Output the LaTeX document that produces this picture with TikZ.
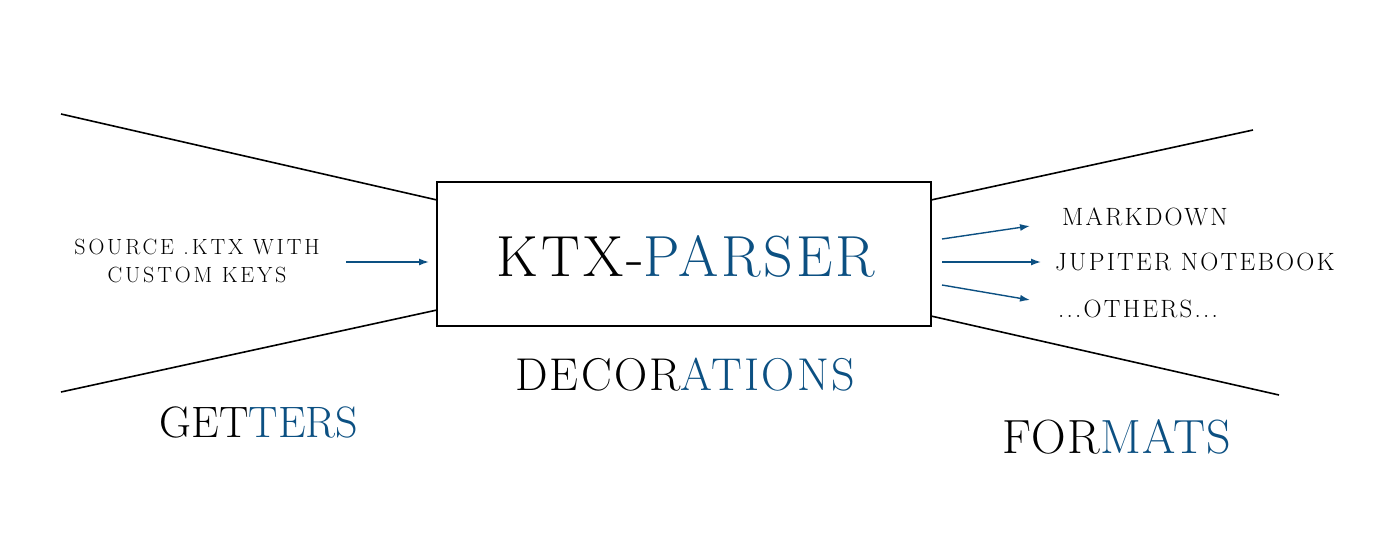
\documentclass[tikz,border=0pt]{standalone}
\usepackage{fontspec}
\setmainfont{Latin Modern Roman}
\usetikzlibrary{arrows.meta}
\definecolor{ktxblue}{RGB}{12,80,130}
\newcommand{\ls}[1]{\addfontfeatures{LetterSpace=#1}}
\begin{document}
\begin{tikzpicture}[x=1pt,y=-1pt,
  wire/.style={line width=1.6pt,black},
  flow/.style={line width=1.4pt,ktxblue,-{Latex[length=10pt,width=7pt]}},
  small/.style={font=\fontsize{22}{28}\selectfont\ls{13},align=center,inner sep=0pt},
  fmt/.style={font=\fontsize{25}{28}\selectfont\ls{9},anchor=west,inner sep=0pt},
  mainbox/.style={draw,line width=2.8pt,minimum width=494,minimum height=144,inner sep=0pt}]
\useasboundingbox (0,0) rectangle (1389,536);
\node[mainbox] (box) at (684,254) {};
\node[font=\fontsize{58}{62}\selectfont\ls{5},inner sep=0pt] (title) at (686,256) {KTX-\textcolor{ktxblue}{PARSER}};
\node[font=\fontsize{46}{50}\selectfont\ls{5},inner sep=0pt] (deco) at (685,375) {DECOR\textcolor{ktxblue}{ATIONS}};
\node[font=\fontsize{44}{48}\selectfont,inner sep=0pt] (get) at (259,422) {GET\textcolor{ktxblue}{TERS}};
\node[font=\fontsize{48}{52}\selectfont\ls{3},inner sep=0pt] (form) at (1117,437) {FOR\textcolor{ktxblue}{MATS}};
\node[small] (src) at (197,261) {SOURCE .KTX WITH\\CUSTOM KEYS};
\node[fmt] (md) at (1062,217) {MARKDOWN};
\node[fmt] (jn) at (1055,262) {JUPITER NOTEBOOK};
\node[fmt] (oth) at (1058,309) {...OTHERS...};
% funnel lines
\coordinate (lta) at (61,114); \coordinate (ltb) at (437,200);
\coordinate (lba) at (61,392); \coordinate (lbb) at (437,310);
\coordinate (rta) at (931,200); \coordinate (rtb) at (1253,130);
\coordinate (rba) at (931,316); \coordinate (rbb) at (1279,395);
\draw[wire] (lta) -- (ltb);
\draw[wire] (lba) -- (lbb);
\draw[wire] (rta) -- (rtb);
\draw[wire] (rba) -- (rbb);
% arrows
\coordinate (ina) at (346,262); \coordinate (inb) at (429,262);
\draw[flow] (ina) -- (inb);
\coordinate (oa) at (942,239); \coordinate (ob) at (1030,226);
\coordinate (oc) at (942,262); \coordinate (od) at (1041,262);
\coordinate (oe) at (942,285); \coordinate (of) at (1030,300);
\draw[flow] (oa) -- (ob);
\draw[flow] (oc) -- (od);
\draw[flow] (oe) -- (of);
\end{tikzpicture}
\end{document}
